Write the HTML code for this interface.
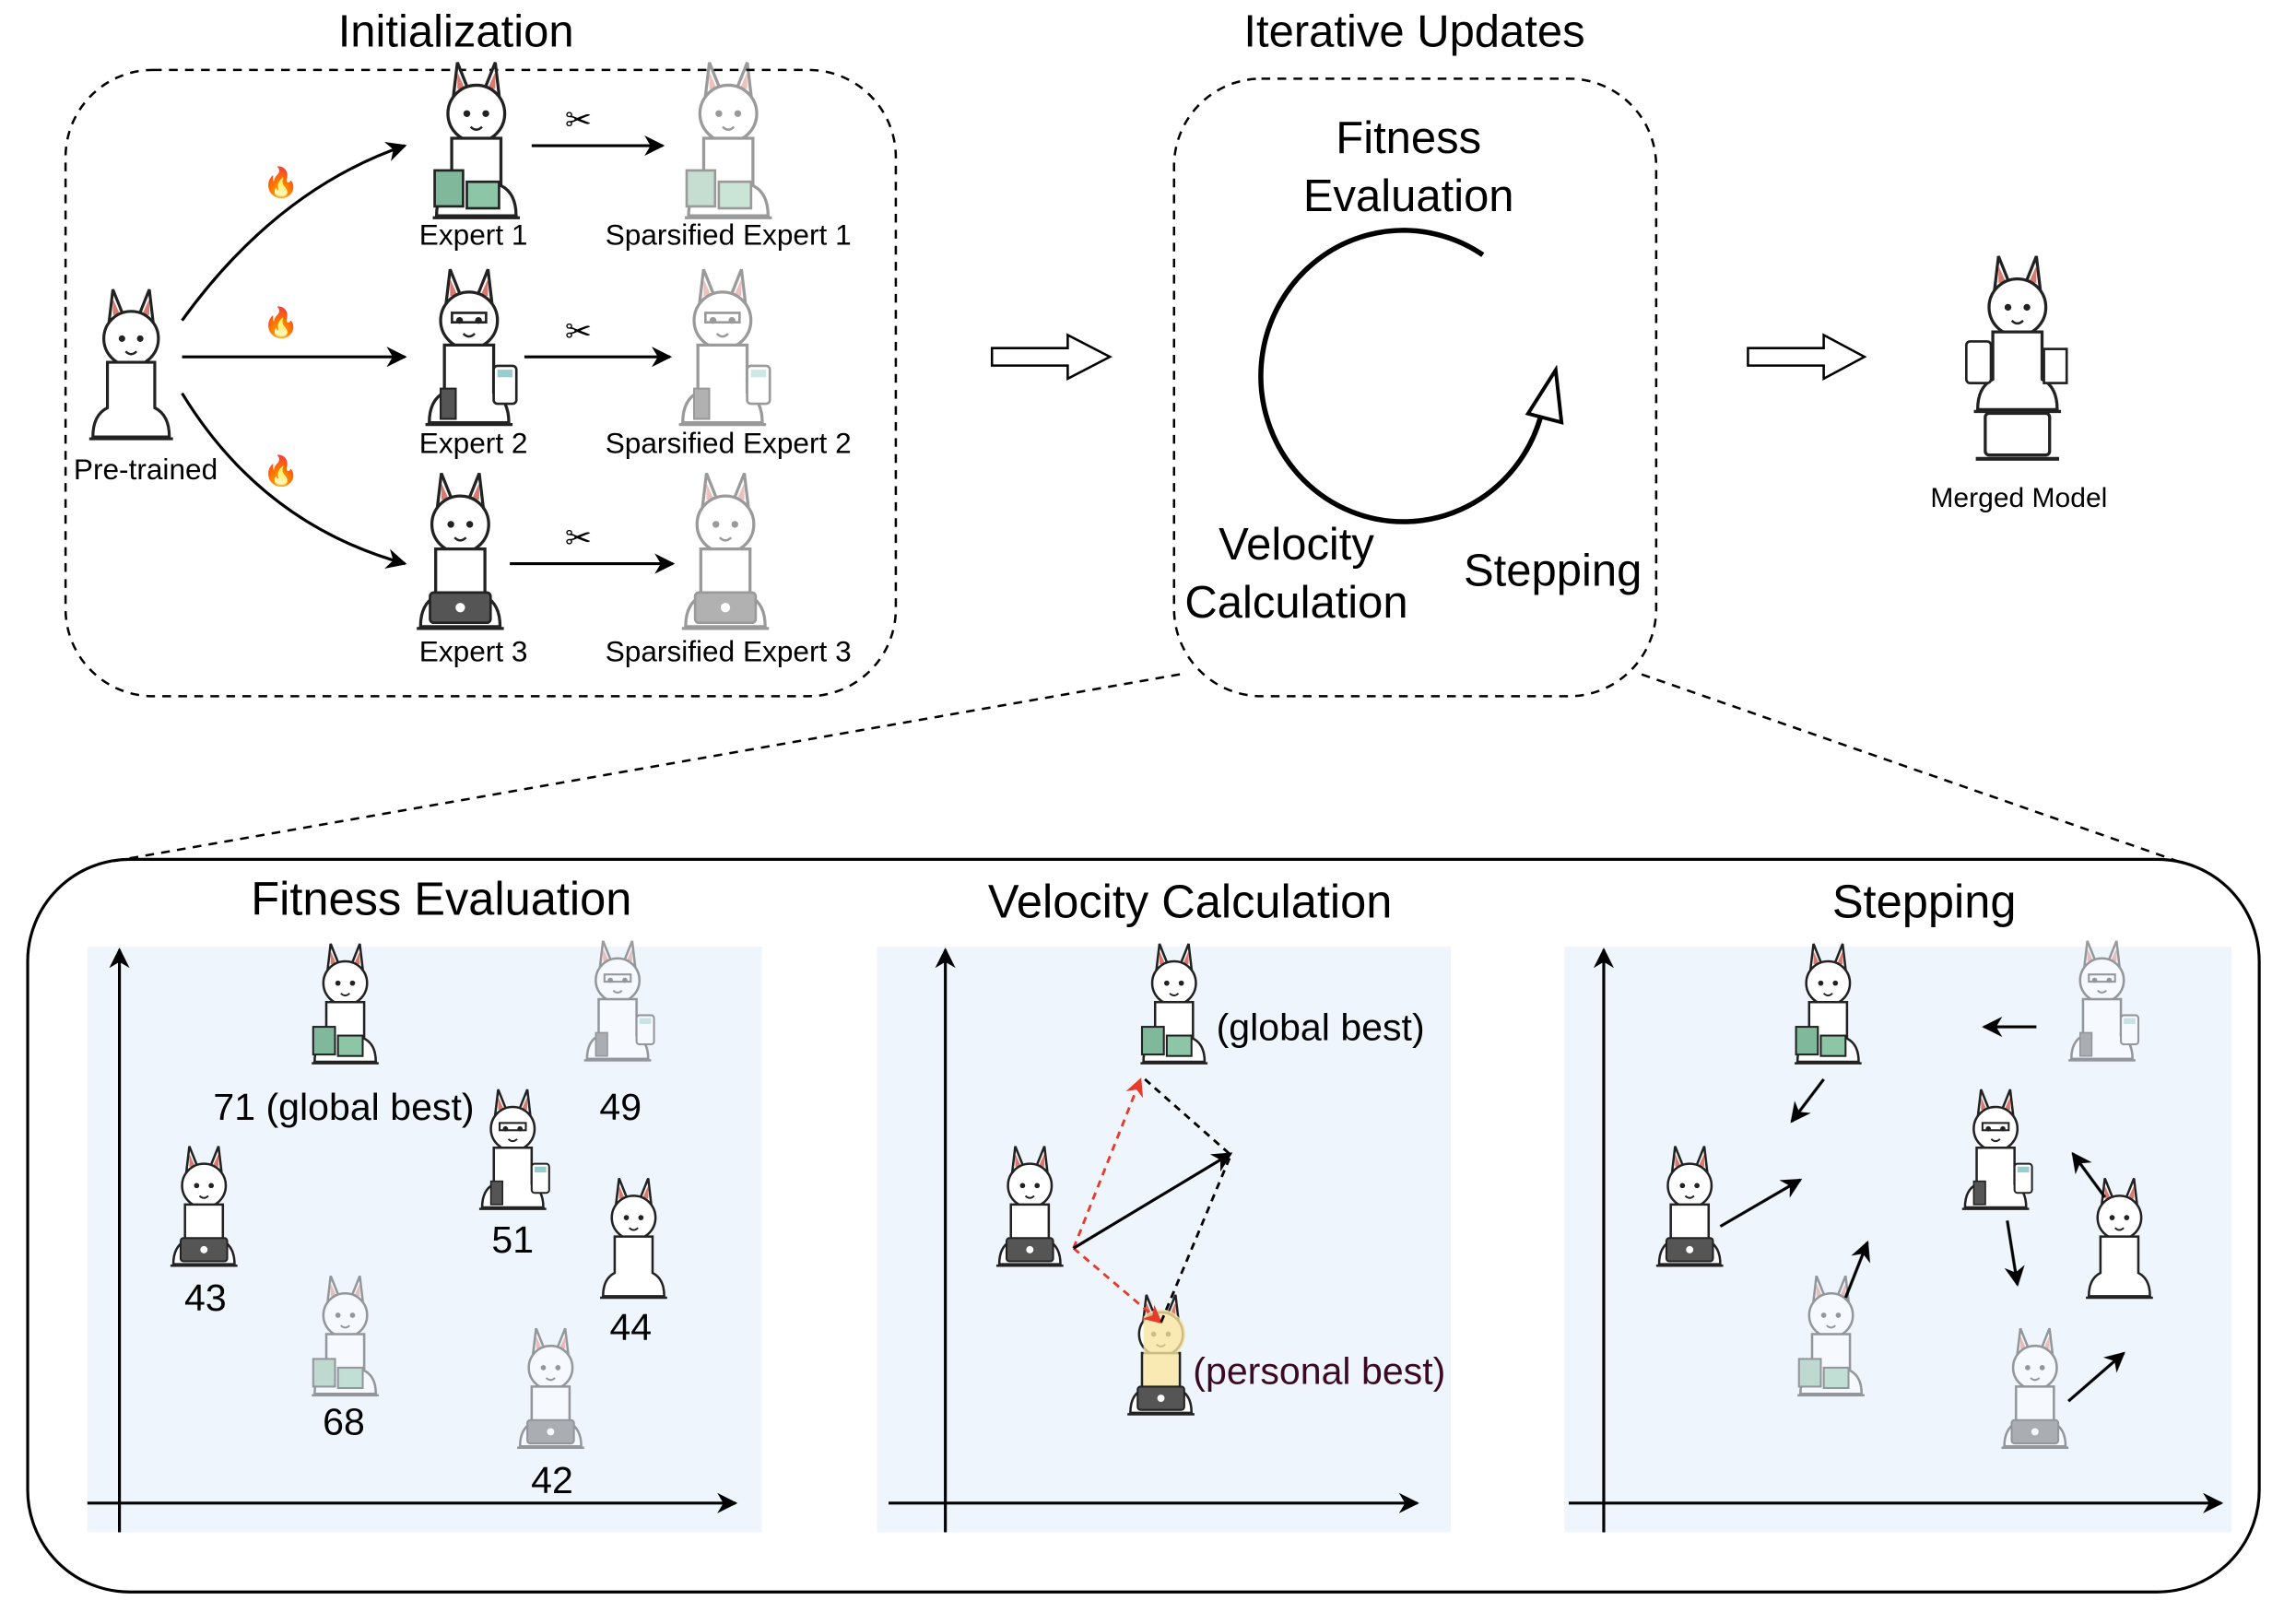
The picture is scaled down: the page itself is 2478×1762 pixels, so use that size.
<!DOCTYPE html>
<html><head><meta charset="utf-8"><style>
html,body{margin:0;padding:0;background:#fff}
svg{display:block}
text{font-family:"Liberation Sans",sans-serif;fill:#000}
</style></head><body>
<svg width="2478" height="1762" viewBox="0 0 1568 1115" preserveAspectRatio="none" xmlns="http://www.w3.org/2000/svg">
<defs>
<marker id="ah" viewBox="0 0 10 10" refX="9" refY="5" markerWidth="7" markerHeight="7" orient="auto"><path d="M0,0 L10,5 L0,10 L3,5 z" fill="#000"/></marker>
<marker id="ahr" viewBox="0 0 10 10" refX="9" refY="5" markerWidth="7" markerHeight="7" orient="auto"><path d="M0,0 L10,5 L0,10 L3,5 z" fill="#e8392a"/></marker>
<g id="llama">
 <path d="M-12,-40 L-10,-57 L-4,-42 Z" fill="#fff" stroke="#222" stroke-width="1.6"/>
 <path d="M12,-40 L10,-57 L4,-42 Z" fill="#fff" stroke="#222" stroke-width="1.6"/>
 <path d="M-10,-43 L-10,-52 L-6,-43Z M10,-43 L10,-52 L6,-43Z" fill="#d97a70"/>
 <ellipse cx="0" cy="-30" rx="15" ry="15" fill="#fff" stroke="#222" stroke-width="1.6"/>
 <circle cx="-5" cy="-30" r="1.8" fill="#222"/><circle cx="5" cy="-30" r="1.8" fill="#222"/>
 <path d="M-3,-23 Q0,-20 3,-23" fill="none" stroke="#222" stroke-width="1.2"/>
 <path d="M-13,-17 L-13,8 Q-21,12 -21,24 L21,24 Q21,12 13,8 L13,-17 Z" fill="#fff" stroke="#222" stroke-width="1.6"/>
 <line x1="-23" y1="25" x2="23" y2="25" stroke="#222" stroke-width="1.6"/>
</g>
<g id="book"><rect x="-22" y="0" width="15" height="19" fill="#7fb89a" stroke="#222" stroke-width="1.3"/><rect x="-5" y="6" width="17" height="14" fill="#8cc6a6" stroke="#222" stroke-width="1.3"/></g>
<g id="calc"><rect x="13" y="-6" width="12" height="20" rx="2" fill="#fff" stroke="#222" stroke-width="1.3"/><rect x="15" y="-4" width="8" height="4" fill="#9cc"/><rect x="-15" y="6" width="8" height="16" fill="#555" stroke="#222"/><rect x="-9" y="-34" width="18" height="5" fill="none" stroke="#222" stroke-width="1.3"/></g>
<g id="lap"><rect x="-16" y="6" width="32" height="16" rx="2" fill="#555" stroke="#222" stroke-width="1.3"/><circle cx="0" cy="14" r="2.5" fill="#fff"/></g>
<g id="L1"><use href="#llama"/><use href="#book"/></g>
<g id="L2"><use href="#llama"/><use href="#calc"/></g>
<g id="L3"><use href="#llama"/><use href="#lap"/></g>
</defs>

<text x="313" y="32" font-size="31" text-anchor="middle">Initialization</text>
<rect x="45" y="48" width="570" height="430" rx="60" fill="none" stroke="#000" stroke-width="1.6" stroke-dasharray="6,5"/>
<g transform="translate(90,270) scale(1.25)"><use href="#llama"/></g>
<text x="100" y="329" font-size="20" text-anchor="middle">Pre-trained</text>
<path d="M125,220 Q190,130 278,100" fill="none" stroke="#000" stroke-width="2" marker-end="url(#ah)"/>
<line x1="125" y1="245" x2="278" y2="245" stroke="#000" stroke-width="2" marker-end="url(#ah)"/>
<path d="M125,270 Q180,360 278,387" fill="none" stroke="#000" stroke-width="2" marker-end="url(#ah)"/>
<text x="193" y="132" font-size="20" text-anchor="middle" fill="#f05a1a">🔥</text>
<text x="193" y="228" font-size="20" text-anchor="middle" fill="#f05a1a">🔥</text>
<text x="193" y="330" font-size="20" text-anchor="middle" fill="#f05a1a">🔥</text>

<g transform="translate(327,117) scale(1.3)"><use href="#L1"/></g>
<g transform="translate(322,259) scale(1.3)"><use href="#L2"/></g>
<g transform="translate(316,399) scale(1.3)"><use href="#L3"/></g>
<g opacity="0.45">
<g transform="translate(500,117) scale(1.3)"><use href="#L1"/></g>
<g transform="translate(496,259) scale(1.3)"><use href="#L2"/></g>
<g transform="translate(498,399) scale(1.3)"><use href="#L3"/></g>
</g>
<text x="325" y="168" font-size="20" text-anchor="middle">Expert 1</text>
<text x="325" y="311" font-size="20" text-anchor="middle">Expert 2</text>
<text x="325" y="454" font-size="20" text-anchor="middle">Expert 3</text>
<text x="500" y="168" font-size="20" text-anchor="middle">Sparsified Expert 1</text>
<text x="500" y="311" font-size="20" text-anchor="middle">Sparsified Expert 2</text>
<text x="500" y="454" font-size="20" text-anchor="middle">Sparsified Expert 3</text>
<line x1="365" y1="100" x2="455" y2="100" stroke="#000" stroke-width="2" marker-end="url(#ah)"/>
<line x1="360" y1="245" x2="460" y2="245" stroke="#000" stroke-width="2" marker-end="url(#ah)"/>
<line x1="350" y1="387" x2="462" y2="387" stroke="#000" stroke-width="2" marker-end="url(#ah)"/>
<text x="397" y="90" font-size="22" text-anchor="middle" fill="#c33">✂</text>
<text x="397" y="235" font-size="22" text-anchor="middle" fill="#c33">✂</text>
<text x="397" y="377" font-size="22" text-anchor="middle" fill="#c33">✂</text>

<path d="M681,239 L733,239 L733,230 L762,245 L733,260 L733,251 L681,251 Z" fill="#fff" stroke="#000" stroke-width="1.6"/>
<path d="M1200,239 L1252,239 L1252,230 L1280,245 L1252,260 L1252,251 L1200,251 Z" fill="#fff" stroke="#000" stroke-width="1.6"/>

<text x="971" y="32" font-size="31" text-anchor="middle">Iterative Updates</text>
<rect x="806" y="54" width="331" height="424" rx="60" fill="none" stroke="#000" stroke-width="1.6" stroke-dasharray="6,5"/>
<text x="967" y="105" font-size="31" text-anchor="middle">Fitness</text>
<text x="967" y="145" font-size="31" text-anchor="middle">Evaluation</text>
<path d="M1018,175 A98,100 0 1 0 1058,285" fill="none" stroke="#000" stroke-width="3.5"/>
<path d="M1049,284 L1068,254 L1072,290 Z" fill="#fff" stroke="#000" stroke-width="2.5"/>
<text x="890" y="384" font-size="31" text-anchor="middle">Velocity</text>
<text x="890" y="424" font-size="31" text-anchor="middle">Calculation</text>
<text x="1066" y="402" font-size="31" text-anchor="middle">Stepping</text>

<g transform="translate(1385,250) scale(1.3)"><use href="#llama"/><rect x="-27" y="-12" width="13" height="22" rx="2" fill="#fff" stroke="#222" stroke-width="1.3"/><rect x="14" y="-8" width="12" height="18" fill="#fff" stroke="#222" stroke-width="1.3"/><rect x="-17" y="26" width="34" height="22" rx="2" fill="#fff" stroke="#222" stroke-width="1.6"/><line x1="-22" y1="50" x2="22" y2="50" stroke="#222" stroke-width="2"/></g>
<text x="1386" y="348" font-size="19" text-anchor="middle">Merged Model</text>

<line x1="810" y1="463" x2="68" y2="593" stroke="#000" stroke-width="1.6" stroke-dasharray="6,5"/>
<line x1="1127" y1="463" x2="1500" y2="593" stroke="#000" stroke-width="1.6" stroke-dasharray="6,5"/>

<rect x="19" y="590" width="1532" height="503" rx="70" fill="none" stroke="#000" stroke-width="2"/>
<text x="303" y="628" font-size="32" text-anchor="middle">Fitness Evaluation</text>
<text x="817" y="630" font-size="32" text-anchor="middle">Velocity Calculation</text>
<text x="1321" y="630" font-size="32" text-anchor="middle">Stepping</text>
<rect x="60" y="650" width="463" height="402" fill="#eef5fc"/>
<rect x="602" y="650" width="394" height="402" fill="#eef5fc"/>
<rect x="1074" y="650" width="458" height="402" fill="#eef5fc"/>
<g stroke="#000" stroke-width="2" marker-end="url(#ah)">
<line x1="82" y1="1052" x2="82" y2="652"/><line x1="60" y1="1032" x2="505" y2="1032"/>
<line x1="649" y1="1052" x2="649" y2="652"/><line x1="610" y1="1032" x2="973" y2="1032"/>
<line x1="1101" y1="1052" x2="1101" y2="652"/><line x1="1077" y1="1032" x2="1525" y2="1032"/>
</g>

<g transform="translate(237,705)"><use href="#L1"/></g>
<g transform="translate(352,805)"><use href="#L2"/></g>
<g transform="translate(140,844)"><use href="#L3"/></g>
<g transform="translate(435,866)"><use href="#llama"/></g>
<g opacity="0.45">
<g transform="translate(424,703)"><use href="#L2"/></g>
<g transform="translate(237,933)"><use href="#L1"/></g>
<g transform="translate(378,969)"><use href="#L3"/></g>
</g>
<g font-size="26" text-anchor="middle">
<text x="236" y="769">71 (global best)</text><text x="426" y="769">49</text>
<text x="352" y="860">51</text><text x="141" y="900">43</text>
<text x="433" y="920">44</text><text x="236" y="985">68</text><text x="379" y="1025">42</text>
</g>

<g transform="translate(806,705)"><use href="#L1"/></g>
<g transform="translate(707,844)"><use href="#L3"/></g>
<g transform="translate(797,946)"><use href="#llama"/><path d="M-12,-42 A15,15 0 1 1 12,-18 L12,8 L-12,8Z" fill="#f7e3a0" opacity="0.8"/><use href="#lap"/></g>
<text x="835" y="714" font-size="26">(global best)</text>
<text x="819" y="950" font-size="26" style="fill:#3a0a25">(personal best)</text>
<line x1="737" y1="857" x2="783" y2="741" stroke="#e8392a" stroke-width="1.8" stroke-dasharray="5,4" marker-end="url(#ahr)"/>
<line x1="737" y1="857" x2="797" y2="908" stroke="#e8392a" stroke-width="1.8" stroke-dasharray="5,4" marker-end="url(#ahr)"/>
<line x1="737" y1="857" x2="845" y2="792" stroke="#000" stroke-width="2" marker-end="url(#ah)"/>
<path d="M786,741 L845,793 L797,908" fill="none" stroke="#000" stroke-width="1.8" stroke-dasharray="5,4"/>

<g transform="translate(1255,705)"><use href="#L1"/></g>
<g transform="translate(1370,805)"><use href="#L2"/></g>
<g transform="translate(1160,844)"><use href="#L3"/></g>
<g transform="translate(1455,866)"><use href="#llama"/></g>
<g opacity="0.45">
<g transform="translate(1443,703)"><use href="#L2"/></g>
<g transform="translate(1257,933)"><use href="#L1"/></g>
<g transform="translate(1397,969)"><use href="#L3"/></g>
</g>
<g stroke="#000" stroke-width="2" marker-end="url(#ah)">
<line x1="1398" y1="705" x2="1362" y2="705"/>
<line x1="1252" y1="741" x2="1230" y2="770"/>
<line x1="1181" y1="842" x2="1236" y2="810"/>
<line x1="1267" y1="891" x2="1282" y2="853"/>
<line x1="1378" y1="838" x2="1385" y2="882"/>
<line x1="1445" y1="822" x2="1423" y2="792"/>
<line x1="1420" y1="962" x2="1458" y2="929"/>
</g>
</svg>
</body></html>
